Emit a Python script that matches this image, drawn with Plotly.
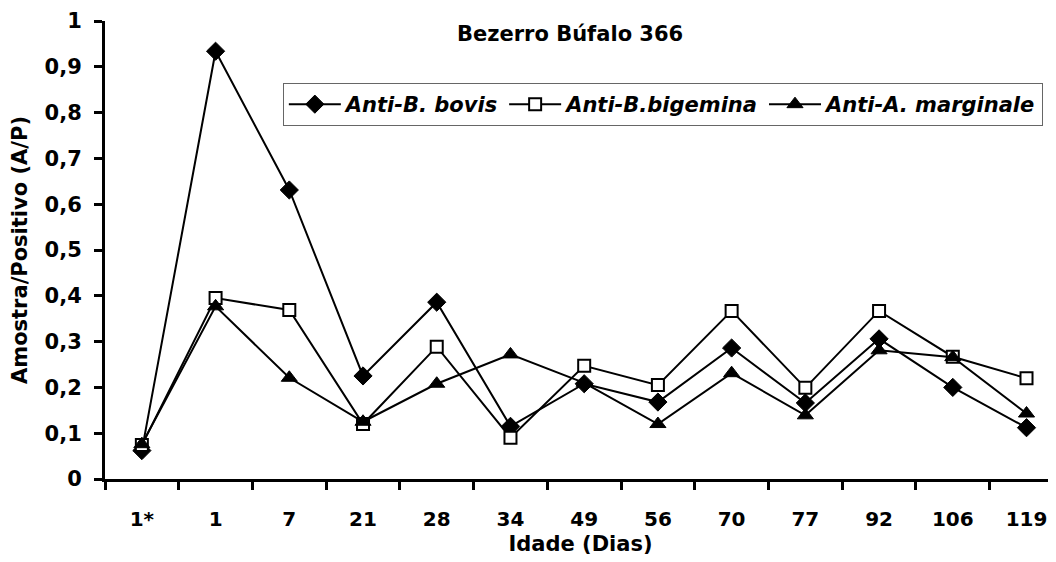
import plotly.graph_objects as go

categories = ["1*", "1", "7", "21", "28", "34", "49", "56", "70", "77", "92", "106", "119"]
bovis = [0.062, 0.934, 0.631, 0.225, 0.386, 0.115, 0.208, 0.168, 0.286, 0.166, 0.306, 0.200, 0.112]
bigemina = [0.074, 0.395, 0.369, 0.120, 0.289, 0.090, 0.247, 0.205, 0.367, 0.199, 0.367, 0.267, 0.220]
marginale = [0.076, 0.377, 0.221, 0.125, 0.208, 0.272, 0.210, 0.120, 0.231, 0.139, 0.281, 0.266, 0.143]
series_names = ["Anti-B. bovis", "Anti-B.bigemina", "Anti-A. marginale"]
y_ticks = [0, 0.1, 0.2, 0.3, 0.4, 0.5, 0.6, 0.7, 0.8, 0.9, 1]

FONT = "DejaVu Sans, Liberation Sans, Arial, sans-serif"

fig = go.Figure()
fig.add_trace(go.Scatter(
    x=categories, y=bovis, name=series_names[0], mode="lines+markers",
    line=dict(color="black", width=2),
    marker=dict(symbol="diamond", size=14, color="black", line=dict(color="black", width=1)),
))
fig.add_trace(go.Scatter(
    x=categories, y=bigemina, name=series_names[1], mode="lines+markers",
    line=dict(color="black", width=2),
    marker=dict(symbol="square", size=12, color="white", line=dict(color="black", width=2)),
))
fig.add_trace(go.Scatter(
    x=categories, y=marginale, name=series_names[2], mode="lines+markers",
    line=dict(color="black", width=2),
    marker=dict(symbol="triangle-up", size=14, color="black", line=dict(color="black", width=1)),
))

# the page body adds an 8px margin, so the figure is 8px smaller and shifted
fig.update_layout(
    template="none",
    width=1048, height=554,
    margin=dict(l=97, r=0, t=13, b=83, autoexpand=False),
    paper_bgcolor="white", plot_bgcolor="white",
    separators=",.",
    font=dict(family=FONT, size=21, color="black", weight="bold"),
    showlegend=True,
    legend=dict(
        orientation="h", x=0.187, y=0.8646, xanchor="left", yanchor="top",
        bordercolor="#666666", borderwidth=1, bgcolor="white",
        font=dict(family=FONT, size=21, color="black", weight="bold", style="italic"),
        itemwidth=52, tracegroupgap=0,
    ),
    annotations=[dict(
        text="Bezerro Búfalo 366", xref="paper", yref="paper",
        x=0.489, y=0.9716, xanchor="center", yanchor="middle",
        showarrow=False, font=dict(family=FONT, size=21, color="black", weight="bold"),
    )],
)

fig.update_xaxes(
    type="category", categoryorder="array", categoryarray=categories,
    range=[-0.5, 12.4], automargin=False,
    showline=True, linecolor="black", linewidth=3,
    ticks="outside", tickson="boundaries", ticklen=8, tickwidth=3, tickcolor="black",
    ticklabelstandoff=20,
    showgrid=False, zeroline=False,
    tickfont=dict(family=FONT, size=20, color="black", weight="bold"),
    title=dict(text="Idade (Dias)", font=dict(family=FONT, size=21, color="black", weight="bold"), standoff=7),
)
fig.update_yaxes(
    range=[0, 1], tickvals=y_ticks, automargin=False,
    showline=True, linecolor="black", linewidth=3,
    ticks="outside", ticklen=8, tickwidth=3, tickcolor="black",
    ticklabelstandoff=8,
    showgrid=False, zeroline=False,
    tickfont=dict(family=FONT, size=21, color="black", weight="bold"),
    title=dict(text="Amostra/Positivo (A/P)", font=dict(family=FONT, size=21, color="black", weight="bold"), standoff=12),
)

fig.write_html("out.html")
